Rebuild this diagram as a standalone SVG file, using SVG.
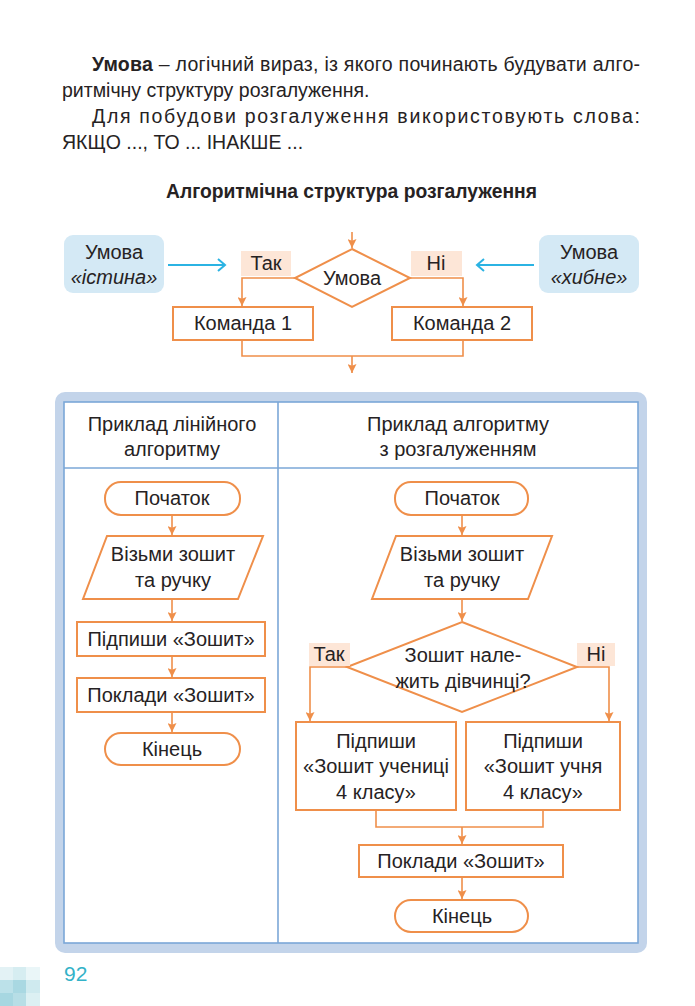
<svg xmlns="http://www.w3.org/2000/svg" width="695" height="1006" viewBox="0 0 695 1006">
<defs>
<style>
.t{font-family:"Liberation Sans",Arial,sans-serif;font-size:20px;fill:#262223;}
.tc{text-anchor:middle;}
.p{font-family:"Liberation Sans",Arial,sans-serif;font-size:19.5px;fill:#262223;}
.it{font-style:italic;}
.sh{fill:#ffffff;stroke:#ef8f4a;stroke-width:2;}
.lbl{fill:#fde6d7;}
.cn{fill:none;stroke:#ef8f4a;stroke-width:1.6;}
.ar{fill:none;stroke:#ef8f4a;stroke-width:1.6;marker-end:url(#ah);}
.bl{fill:#d4e9f5;}
.ba{fill:none;stroke:#2bb3e3;stroke-width:2;}
.grid{fill:none;stroke:#7ba7d7;stroke-width:1.6;}
</style>
<marker id="ah" viewBox="0 0 10 10" refX="10" refY="5" markerWidth="9" markerHeight="9" markerUnits="userSpaceOnUse" orient="auto">
<path d="M0,0 L10,5 L0,10 L2,5 z" fill="#ef8f4a"/>
</marker>
</defs>
<rect width="695" height="1006" fill="#ffffff"/>

<g id="intro">
<text class="p" x="92" y="71" textLength="548" lengthAdjust="spacing"><tspan font-weight="bold">Умова</tspan> – логічний вираз, із якого починають будувати алго-</text>
<text class="p" x="62" y="97">ритмічну структуру розгалуження.</text>
<text class="p" x="92" y="123" textLength="548" lengthAdjust="spacing">Для побудови розгалуження використовують слова:</text>
<text class="p" x="62" y="149">ЯКЩО ..., ТО ... ІНАКШЕ ...</text>
<text class="t" x="166" y="198" font-weight="bold" font-size="19.5" textLength="371" lengthAdjust="spacingAndGlyphs">Алгоритмічна структура розгалуження</text>
</g>

<g id="cond-true">
<rect class="bl" x="64" y="235" width="100" height="58" rx="9"/>
<text class="t tc" x="114" y="259">Умова</text>
<text class="t tc it" x="114" y="284">«істина»</text>
</g>
<g id="cond-false">
<rect class="bl" x="539" y="235" width="100" height="58" rx="9"/>
<text class="t tc" x="589" y="259">Умова</text>
<text class="t tc it" x="589" y="284">«хибне»</text>
</g>
<g id="top-decision">
<polygon class="sh" points="352,249 410,278 352,307 295,278"/>
<text class="t tc" x="352" y="285">Умова</text>
</g>
<g id="top-yes">
<rect class="lbl" x="241" y="251" width="50" height="25"/>
<text class="t tc" x="266" y="270">Так</text>
</g>
<g id="top-no">
<rect class="lbl" x="411" y="251" width="51" height="25"/>
<text class="t tc" x="436" y="270">Ні</text>
</g>
<g id="cmd1">
<rect class="sh" x="173" y="307" width="140" height="33"/>
<text class="t tc" x="243" y="330">Команда 1</text>
</g>
<g id="cmd2">
<rect class="sh" x="392" y="307" width="140" height="33"/>
<text class="t tc" x="462" y="330">Команда 2</text>
</g>

<g id="panel">
<rect x="55" y="392" width="592" height="561" rx="10" fill="#c3d4ea"/>
<rect x="64" y="402" width="574" height="541" fill="#ffffff"/>
<rect class="grid" x="64" y="402" width="574" height="541"/>
<line class="grid" x1="278" y1="402" x2="278" y2="943"/>
<line class="grid" x1="64" y1="468" x2="638" y2="468"/>
<text class="t tc" x="172" y="431">Приклад лінійного</text>
<text class="t tc" x="172" y="456">алгоритму</text>
<text class="t tc" x="458" y="431">Приклад алгоритму</text>
<text class="t tc" x="458" y="456">з розгалуженням</text>
</g>

<g id="l-start">
<rect class="sh" x="105" y="482" width="135" height="33" rx="16"/>
<text class="t tc" x="172" y="505">Початок</text>
</g>
<g id="l-take">
<polygon class="sh" points="107,536 263,536 238,599 83,599"/>
<text class="t tc" x="173" y="561">Візьми зошит</text>
<text class="t tc" x="173" y="587">та ручку</text>
</g>
<g id="l-sign">
<rect class="sh" x="77" y="622" width="188" height="34"/>
<text class="t tc" x="171" y="646">Підпиши «Зошит»</text>
</g>
<g id="l-put">
<rect class="sh" x="77" y="678" width="188" height="34"/>
<text class="t tc" x="171" y="702">Поклади «Зошит»</text>
</g>
<g id="l-end">
<rect class="sh" x="105" y="733" width="135" height="32" rx="16"/>
<text class="t tc" x="172" y="756">Кінець</text>
</g>

<g id="r-start">
<rect class="sh" x="395" y="482" width="133" height="33" rx="16"/>
<text class="t tc" x="462" y="505">Початок</text>
</g>
<g id="r-take">
<polygon class="sh" points="396,536 552,536 528,599 372,599"/>
<text class="t tc" x="462" y="561">Візьми зошит</text>
<text class="t tc" x="462" y="587">та ручку</text>
</g>
<g id="r-decision">
<polygon class="sh" points="462,622 577,667 462,712 347,667"/>
<text class="t tc" x="463" y="662">Зошит нале-</text>
<text class="t tc" x="463" y="688">жить дівчинці?</text>
</g>
<g id="r-yes">
<rect class="lbl" x="309" y="643" width="41" height="23"/>
<text class="t tc" x="329" y="661">Так</text>
</g>
<g id="r-no">
<rect class="lbl" x="577" y="643" width="38" height="23"/>
<text class="t tc" x="596" y="661">Ні</text>
</g>
<g id="r-girl">
<rect class="sh" x="296" y="722" width="160" height="88"/>
<text class="t tc" x="376" y="748">Підпиши</text>
<text class="t tc" x="376" y="773">«Зошит учениці</text>
<text class="t tc" x="376" y="799">4 класу»</text>
</g>
<g id="r-boy">
<rect class="sh" x="466" y="722" width="154" height="88"/>
<text class="t tc" x="543" y="748">Підпиши</text>
<text class="t tc" x="543" y="773">«Зошит учня</text>
<text class="t tc" x="543" y="799">4 класу»</text>
</g>
<g id="r-put">
<rect class="sh" x="359" y="845" width="204" height="32"/>
<text class="t tc" x="461" y="868">Поклади «Зошит»</text>
</g>
<g id="r-end">
<rect class="sh" x="395" y="900" width="133" height="32" rx="16"/>
<text class="t tc" x="462" y="923">Кінець</text>
</g>

<g id="connectors">
<path class="ba" d="M168,265 H225 M218,259 L225,265 L218,271"/>
<path class="ba" d="M534,265 H477 M484,259 L477,265 L484,271"/>
<path class="ar" d="M352,232 V248"/>
<path class="ar" d="M295,278 H242 V306"/>
<path class="ar" d="M410,278 H463 V306"/>
<path class="cn" d="M242,340 V356 H463 V340"/>
<path class="ar" d="M352,356 V373"/>
<path class="ar" d="M172,515 V535"/>
<path class="ar" d="M172,599 V621"/>
<path class="ar" d="M172,656 V677"/>
<path class="ar" d="M172,712 V732"/>
<path class="ar" d="M462,515 V535"/>
<path class="ar" d="M462,599 V621"/>
<path class="ar" d="M347,667 H310 V721"/>
<path class="ar" d="M577,667 H609 V721"/>
<path class="cn" d="M376,810 V827 H543 V810"/>
<path class="ar" d="M462,827 V844"/>
<path class="ar" d="M462,877 V899"/>
</g>

<g id="footer">
<rect x="0" y="967" width="13" height="13" fill="#e3f2f5"/>
<rect x="13" y="967" width="13" height="13" fill="#d6edf1"/>
<rect x="26" y="967" width="14" height="13" fill="#eaf6f8"/>
<rect x="0" y="980" width="13" height="13" fill="#bce1e9"/>
<rect x="13" y="980" width="13" height="13" fill="#a9d8e2"/>
<rect x="26" y="980" width="14" height="13" fill="#cfeaef"/>
<rect x="0" y="993" width="13" height="13" fill="#a7d7e1"/>
<rect x="13" y="993" width="13" height="13" fill="#b7dee6"/>
<rect x="26" y="993" width="14" height="13" fill="#dcf0f3"/>
<text x="64" y="981" font-family="Liberation Sans, Arial, sans-serif" font-size="21" fill="#33b2c8">92</text>
</g>
</svg>
